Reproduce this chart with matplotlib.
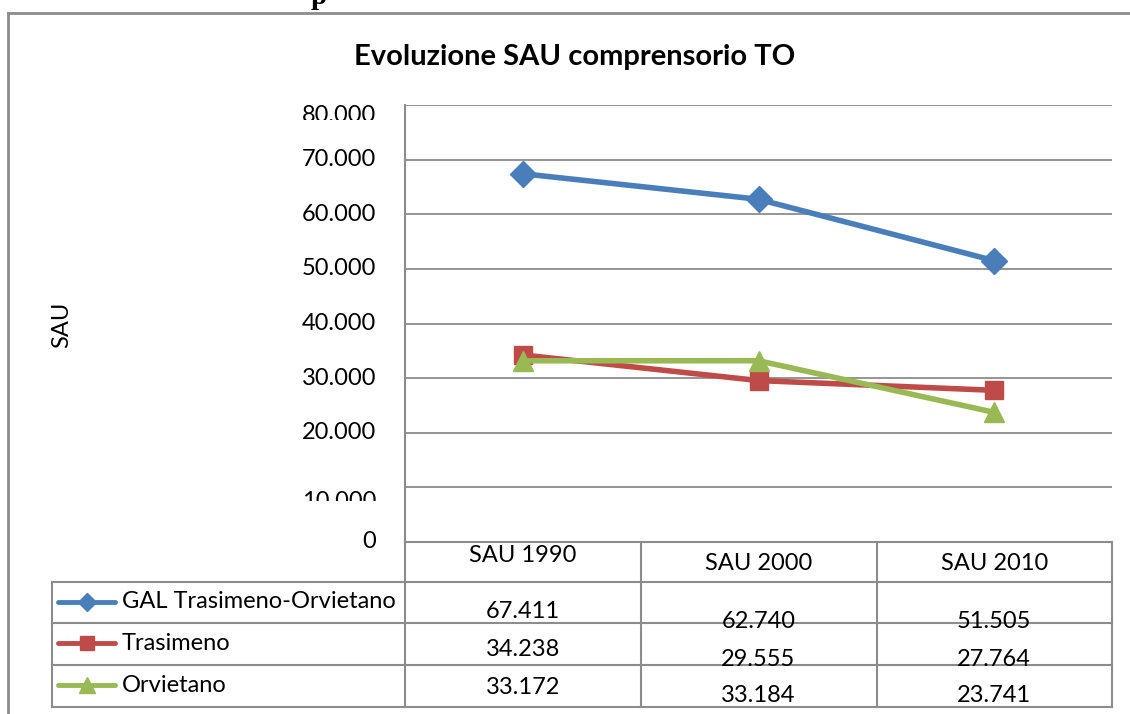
import matplotlib.pyplot as plt
from matplotlib.transforms import Bbox, ScaledTranslation, blended_transform_factory
from matplotlib.lines import Line2D

plt.rcParams['font.family'] = ['Lato', 'DejaVu Sans']

# dati
categories = ['SAU 1990', 'SAU 2000', 'SAU 2010']
series_names = ['GAL Trasimeno-Orvietano', 'Trasimeno', 'Orvietano']
gal = [67411, 62740, 51505]
trasimeno = [34238, 29555, 27764]
orvietano = [33172, 33184, 23741]
yticks = [0, 10000, 20000, 30000, 40000, 50000, 60000, 70000, 80000]

colors = ['#4A7EBB', '#BE4B48', '#98B954']
markers = ['D', 's', '^']
msizes = [13, 13.5, 15]
values = [gal, trasimeno, orvietano]

W, H = 1130, 714
fig = plt.figure(figsize=(W / 100, H / 100), dpi=100)

def fx(px):
    return px / W

def fy(py):
    return 1 - py / H

fs = 17

# riquadro esterno
grey = '#8C8C8C'
fig.add_artist(Line2D([fx(8), fx(8)], [fy(13), 0], color=grey, lw=2, transform=fig.transFigure))
fig.add_artist(Line2D([fx(8), 1], [fy(13), fy(13)], color=grey, lw=2, transform=fig.transFigure))
fig.text(fx(311), fy(4), 'p', family='Liberation Serif', weight='bold', fontsize=21, va='baseline')

left, right, top, bottom = 405, 1112, 105, 542
ax = fig.add_axes([fx(left), fy(bottom), fx(right - left), fy(top) - fy(bottom)])

x = list(range(len(categories)))
for name, vals, c, m, ms in zip(series_names, values, colors, markers, msizes):
    ax.plot(x, vals, color=c, lw=4, marker=m, markersize=ms, label=name)

ax.set_xlim(-0.5, 2.5)
ax.set_ylim(0, 80000)
ax.set_yticks(yticks)
ax.set_yticklabels([])
ax.set_xticks([])
ax.tick_params(axis='y', length=0)
ax.grid(axis='y', color=grey, lw=1.3)
ax.set_axisbelow(True)
for s in ['top', 'right', 'bottom']:
    ax.spines[s].set_visible(False)
ax.spines['left'].set_color(grey)
ax.spines['left'].set_linewidth(1.5)

# etichette asse y (80.000 e 10.000 tagliate come nell'originale)
ylab_tr = blended_transform_factory(fig.transFigure, ax.transData)
shift = {80000: (-11, 120), 10000: (-14, 501)}
for v in yticks:
    lbl = f'{v:,}'.replace(',', '.')
    t = ax.text(fx(376), v, lbl, transform=ylab_tr, ha='right', va='center', fontsize=fs)
    if v in shift:
        dy, cut = shift[v]
        t.set_transform(ylab_tr + ScaledTranslation(0, dy / 100, fig.dpi_scale_trans))
        t.set_clip_box(Bbox([[0, H - cut], [W, H]]))
        t.set_clip_on(True)

fig.text(fx(575), fy(57), 'Evoluzione SAU comprensorio TO', ha='center', va='center',
         fontsize=21, weight='bold')
fig.text(fx(62), fy(325), 'SAU', rotation=90, ha='center', va='center', fontsize=fs)

# tabella dati
tf = fig.transFigure
rows_y = [542, 582, 623, 665, 707]
cols_x = [405, 641, 877, 1112]
for yy in rows_y[1:]:
    fig.add_artist(Line2D([fx(52), fx(1112)], [fy(yy), fy(yy)], color=grey, lw=1.5, transform=tf))
fig.add_artist(Line2D([fx(405), fx(1112)], [fy(542), fy(542)], color=grey, lw=1.5, transform=tf))
for xx in cols_x:
    fig.add_artist(Line2D([fx(xx), fx(xx)], [fy(542), fy(707)], color=grey, lw=1.5, transform=tf))
fig.add_artist(Line2D([fx(52), fx(52)], [fy(582), fy(707)], color=grey, lw=1.5, transform=tf))

cell_tr = blended_transform_factory(ax.transData, tf)
head_y = [555, 564, 564]
for i, cat in enumerate(categories):
    fig.text(i, fy(head_y[i]), cat, transform=cell_tr, ha='center', va='center', fontsize=fs)

val_y = [[611, 621, 621], [649, 660, 660], [687, 696, 696]]
for r, vals in enumerate(values):
    for i, v in enumerate(vals):
        fig.text(i, fy(val_y[r][i]), f'{v:,}'.replace(',', '.'), transform=cell_tr,
                 ha='center', va='center', fontsize=fs)

leg_y = [602, 643, 685]
leg_ms = [9.5, 10.5, 11.5]
for name, c, m, ms, yy in zip(series_names, colors, markers, leg_ms, leg_y):
    fig.add_artist(Line2D([fx(58), fx(115)], [fy(yy), fy(yy)], color=c, lw=3.5,
                          solid_capstyle='round', transform=tf))
    fig.add_artist(Line2D([fx(87)], [fy(yy)], color=c, marker=m, markersize=ms, transform=tf))
    fig.text(fx(122), fy(yy), name, ha='left', va='center', fontsize=fs)

fig.savefig('out.png', dpi=100)
